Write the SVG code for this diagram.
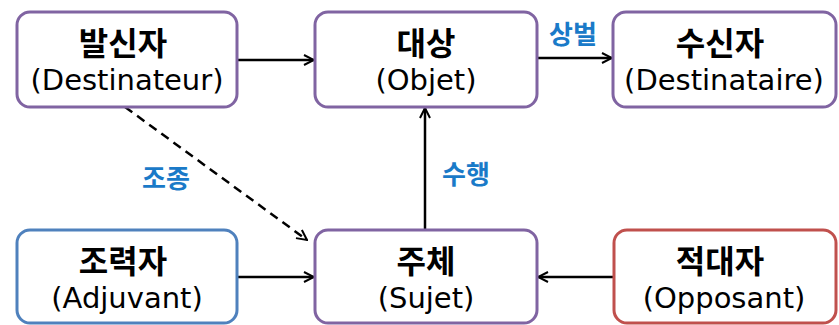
<svg xmlns="http://www.w3.org/2000/svg" width="839" height="325" viewBox="0 0 839 325">
  <style>
    .box { fill: #ffffff; stroke-width: 3; }
    .purple { stroke: #8064A2; }
    .blue { stroke: #4F81BD; }
    .red { stroke: #C0504D; }
    .ko { font-family: "Noto Sans CJK KR", "Noto Sans", sans-serif; font-weight: bold; font-size: 32px; fill: #000; text-anchor: middle; }
    .en { font-family: "DejaVu Sans", "Noto Sans", sans-serif; font-size: 29px; fill: #000; text-anchor: middle; }
    .lbl { font-family: "Noto Sans CJK KR", sans-serif; font-weight: bold; font-size: 26px; fill: #1A7AC8; text-anchor: middle; }
    .edge { stroke: #000; stroke-width: 2.5; fill: none; }
  </style>
  <defs>
    <marker id="arrow" viewBox="0 0 12 12" refX="11" refY="6" markerWidth="12" markerHeight="12" markerUnits="userSpaceOnUse" orient="auto">
      <path d="M1,1 L11,6 L1,11" fill="none" stroke="#000" stroke-width="2"/>
    </marker>
  </defs>

  <g id="connectors">
    <line class="edge" x1="237" y1="60" x2="314" y2="60" marker-end="url(#arrow)"/>
    <line class="edge" x1="537" y1="58" x2="612" y2="58" marker-end="url(#arrow)"/>
    <line class="edge" x1="425" y1="230" x2="425" y2="108" marker-end="url(#arrow)"/>
    <line class="edge" x1="125" y1="107" x2="307" y2="240" stroke-dasharray="9,6" marker-end="url(#arrow)"/>
    <line class="edge" x1="237" y1="277" x2="314" y2="277" marker-end="url(#arrow)"/>
    <line class="edge" x1="614" y1="277" x2="538" y2="277" marker-end="url(#arrow)"/>
    <text class="lbl" x="573" y="44">상벌</text>
    <text class="lbl" x="466" y="184">수행</text>
    <text class="lbl" x="166" y="188">조종</text>
  </g>

  <g id="destinateur">
    <rect class="box purple" x="17" y="12" width="220" height="95" rx="13"/>
    <text class="ko" x="123" y="55">발신자</text>
    <text class="en" x="127" y="90">(Destinateur)</text>
  </g>
  <g id="objet">
    <rect class="box purple" x="315" y="12" width="222" height="95" rx="13"/>
    <text class="ko" x="426" y="55">대상</text>
    <text class="en" x="426" y="90">(Objet)</text>
  </g>
  <g id="destinataire">
    <rect class="box purple" x="613" y="12" width="223" height="95" rx="13"/>
    <text class="ko" x="720" y="55">수신자</text>
    <text class="en" x="724" y="90">(Destinataire)</text>
  </g>
  <g id="adjuvant">
    <rect class="box blue" x="17" y="230" width="220" height="93" rx="13"/>
    <text class="ko" x="123" y="273">조력자</text>
    <text class="en" x="127" y="308">(Adjuvant)</text>
  </g>
  <g id="sujet">
    <rect class="box purple" x="315" y="230" width="222" height="93" rx="13"/>
    <text class="ko" x="426" y="273">주체</text>
    <text class="en" x="426" y="308">(Sujet)</text>
  </g>
  <g id="opposant">
    <rect class="box red" x="614" y="230" width="222" height="93" rx="13"/>
    <text class="ko" x="720" y="273">적대자</text>
    <text class="en" x="724" y="308">(Opposant)</text>
  </g>
</svg>
